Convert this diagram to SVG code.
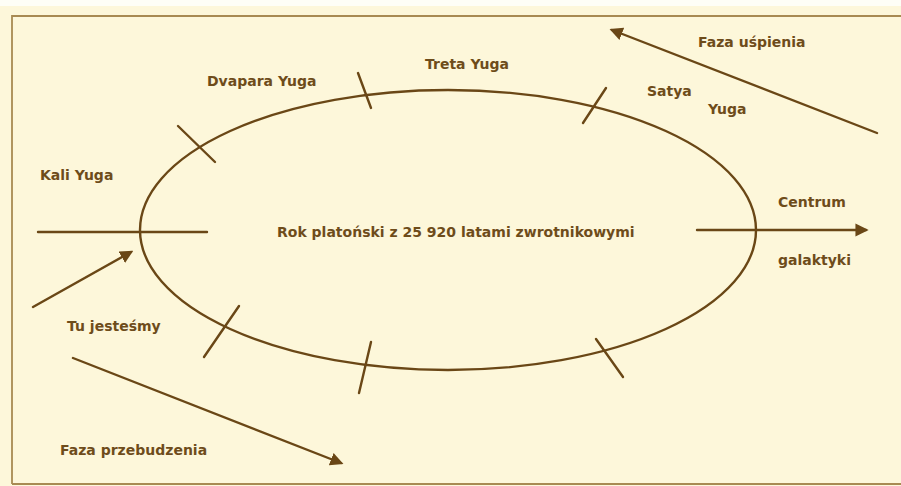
<svg xmlns="http://www.w3.org/2000/svg" width="901" height="486" viewBox="0 0 901 486">
<defs>
<style>
.t{font-family:"DejaVu Sans","Liberation Sans",sans-serif;font-weight:bold;font-size:14px;fill:#6e4c1a}
.ln{stroke:#6a4716;stroke-width:2.4;fill:none;stroke-linecap:round}
.ar{marker-end:url(#ah)}
</style>
<marker id="ah" viewBox="0 0 10 10" refX="8" refY="5" markerWidth="5.5" markerHeight="5.5" markerUnits="strokeWidth" orient="auto">
<path d="M0,0 L10,5 L0,10 z" fill="#6a4716"/>
</marker>
</defs>
<rect x="0" y="0" width="901" height="486" fill="#fefef6"/>
<rect x="0" y="6" width="901" height="480" fill="#fdf7da"/>
<path d="M12,484 L12,16 L901,16" stroke="#a88a52" stroke-width="1.8" fill="none"/>
<line x1="12" y1="484" x2="901" y2="484" stroke="#a88a52" stroke-width="1.8"/>
<g id="cycle">
<ellipse cx="448" cy="230" rx="308" ry="140" class="ln"/>
</g>
<g id="connectors">
<line class="ln" x1="38" y1="232" x2="207" y2="232"/>
<line class="ln ar" x1="697" y1="230" x2="866" y2="230"/>
<line class="ln" x1="178" y1="126" x2="215" y2="162"/>
<line class="ln" x1="358" y1="73" x2="371" y2="108"/>
<line class="ln" x1="606" y1="88" x2="583" y2="123"/>
<line class="ln" x1="239" y1="306" x2="204" y2="357"/>
<line class="ln" x1="371" y1="342" x2="359" y2="393"/>
<line class="ln" x1="596" y1="339" x2="623" y2="377"/>
<line class="ln ar" x1="877" y1="133" x2="612" y2="30"/>
<line class="ln ar" x1="33" y1="307" x2="131" y2="252"/>
<line class="ln ar" x1="73" y1="358" x2="341" y2="463"/>
</g>
<g id="labels">
<text class="t" x="207" y="86">Dvapara Yuga</text>
<text class="t" x="425" y="69">Treta Yuga</text>
<text class="t" x="647" y="96">Satya</text>
<text class="t" x="708" y="114">Yuga</text>
<text class="t" x="698" y="47">Faza uśpienia</text>
<text class="t" x="40" y="180">Kali Yuga</text>
<text class="t" x="277" y="237">Rok platoński z 25 920 latami zwrotnikowymi</text>
<text class="t" x="778" y="207">Centrum</text>
<text class="t" x="778" y="265">galaktyki</text>
<text class="t" x="67" y="331">Tu jesteśmy</text>
<text class="t" x="60" y="455">Faza przebudzenia</text>
</g>
</svg>
